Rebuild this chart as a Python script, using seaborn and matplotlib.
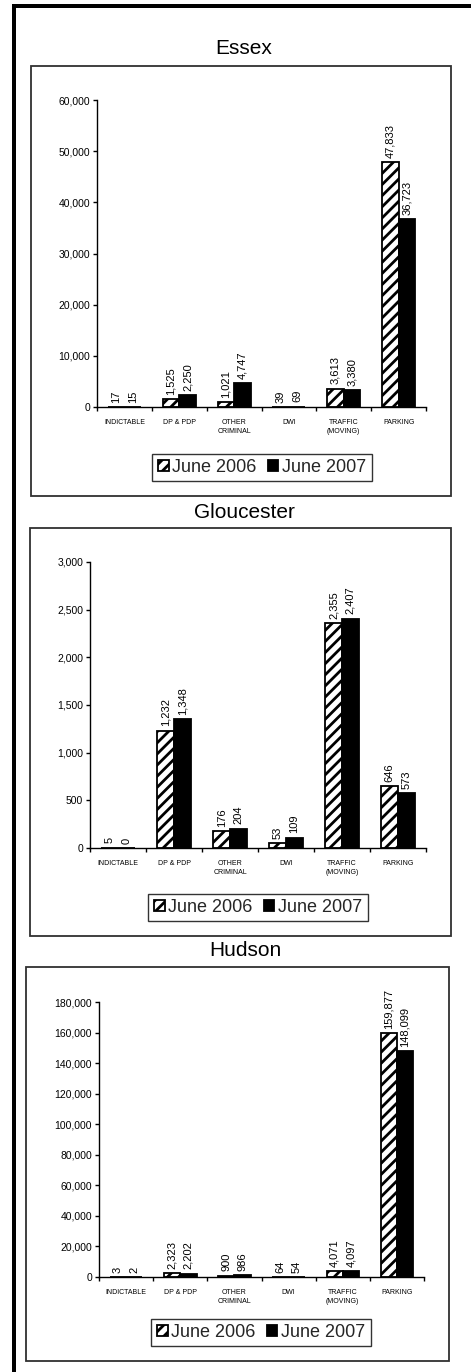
import numpy as np
import pandas as pd
import matplotlib
matplotlib.use("Agg")
import matplotlib.pyplot as plt
from matplotlib.patches import Patch, Rectangle
from matplotlib.ticker import FuncFormatter, MultipleLocator
import seaborn as sns

# ---- data -------------------------------------------------------------
categories = ["INDICTABLE", "DP & PDP", "OTHER\nCRIMINAL", "DWI",
              "TRAFFIC\n(MOVING)", "PARKING"]
periods = ["June 2006", "June 2007"]

essex_2006 = [17, 1525, 1021, 39, 3613, 47833]
essex_2007 = [15, 2250, 4747, 69, 3380, 36723]

gloucester_2006 = [5, 1232, 176, 53, 2355, 646]
gloucester_2007 = [0, 1348, 204, 109, 2407, 573]

hudson_2006 = [3, 2323, 900, 64, 4071, 159877]
hudson_2007 = [2, 2202, 986, 54, 4097, 148099]

counties = ["Essex", "Gloucester", "Hudson"]
series = [(essex_2006, essex_2007),
          (gloucester_2006, gloucester_2007),
          (hudson_2006, hudson_2007)]
y_max = [60000, 3000, 180000]
y_step = [10000, 500, 20000]

# ---- style ------------------------------------------------------------
sns.set_theme(style="white")
plt.rcParams["font.family"] = ["Liberation Sans", "DejaVu Sans"]
plt.rcParams["hatch.linewidth"] = 2.0
plt.rcParams["hatch.color"] = "black"

W, H = 471, 1372
fig = plt.figure(figsize=(W / 100, H / 100), dpi=100)
fig.patch.set_facecolor("white")


def fx(px):
    return px / W


def fy(py):
    return 1 - py / H


# page frame: heavy rules along the top and the left
fig.add_artist(Rectangle((fx(12), fy(8)), fx(W - 12), 4 / H, transform=fig.transFigure,
                         facecolor="black", edgecolor="none", zorder=-2))
fig.add_artist(Rectangle((fx(12), 0), 4 / W, fy(4), transform=fig.transFigure,
                         facecolor="black", edgecolor="none", zorder=-2))

# layout in pixels: chart box, axes box, title centre, legend centre
boxes = [(31, 66, 451, 496), (30, 528, 451, 936), (26, 967, 449, 1361)]
axes_px = [(97, 100, 426, 407), (90, 562, 426, 848), (99, 1002, 424, 1277)]
titles_px = [(244, 48), (244, 513), (245, 951)]
legends_px = [(262, 467.5), (258, 907.5), (261, 1332.5)]

thousands = FuncFormatter(lambda v, p: f"{v:,.0f}")

for i, county in enumerate(counties):
    b = boxes[i]
    fig.add_artist(Rectangle((fx(b[0]), fy(b[3])), fx(b[2] - b[0]), (b[3] - b[1]) / H,
                             transform=fig.transFigure, facecolor="white",
                             edgecolor="#303030", linewidth=1.3, zorder=-1))
    fig.text(fx(titles_px[i][0]), fy(titles_px[i][1]), county, ha="center",
             va="center", fontsize=15, color="black")

    a = axes_px[i]
    ax = fig.add_axes([fx(a[0]), fy(a[3]), fx(a[2] - a[0]), (a[3] - a[1]) / H])
    ax.set_facecolor("none")
    ax.set_zorder(1)

    v06, v07 = series[i]
    df = pd.DataFrame({
        "category": categories * 2,
        "period": [periods[0]] * len(categories) + [periods[1]] * len(categories),
        "value": list(v06) + list(v07),
    })
    sns.barplot(data=df, x="category", y="value", hue="period", order=categories,
                hue_order=periods, palette=["white", "black"], edgecolor="black",
                linewidth=1.3, width=0.6, errorbar=None, legend=False, ax=ax,
                saturation=1)

    for bar in ax.containers[0]:
        bar.set_hatch("///")
    for cont in ax.containers:
        ax.bar_label(cont, fmt="{:,.0f}", rotation=90, padding=3, fontsize=8,
                     color="black")

    ax.set_xlim(-0.5, len(categories) - 0.5)
    ax.set_ylim(0, y_max[i])
    ax.yaxis.set_major_locator(MultipleLocator(y_step[i]))
    ax.yaxis.set_major_formatter(thousands)
    ax.set_xlabel("")
    ax.set_ylabel("")

    for side in ("top", "right"):
        ax.spines[side].set_visible(False)
    for side in ("left", "bottom"):
        ax.spines[side].set_color("black")
        ax.spines[side].set_linewidth(1.0)

    ax.set_xticks(np.arange(-0.5, len(categories), 1.0), minor=True)
    ax.tick_params(axis="x", which="major", bottom=False, length=0, pad=8.5,
                   labelsize=5, colors="black")
    ax.tick_params(axis="x", which="minor", bottom=True, length=3, width=1.0,
                   direction="out", color="black")
    ax.tick_params(axis="y", which="major", left=True, length=3, width=1.0,
                   direction="out", pad=2, labelsize=7.5, colors="black")
    for lab in ax.get_xticklabels():
        lab.set_linespacing(1.5)

    handles = [Patch(facecolor="white", edgecolor="black", hatch="///", linewidth=1.3),
               Patch(facecolor="black", edgecolor="black", linewidth=1.3)]
    leg = fig.legend(handles, periods, loc="center",
                     bbox_to_anchor=(fx(legends_px[i][0]), fy(legends_px[i][1])),
                     bbox_transform=fig.transFigure, ncol=2, fontsize=13,
                     frameon=True, fancybox=False, shadow=False,
                     handlelength=0.6, handleheight=0.6, handletextpad=0.2,
                     columnspacing=0.6, borderpad=0.3, borderaxespad=0)
    leg.get_frame().set_edgecolor("black")
    leg.get_frame().set_linewidth(1.0)

fig.savefig("out.png", dpi=100, facecolor="white")
